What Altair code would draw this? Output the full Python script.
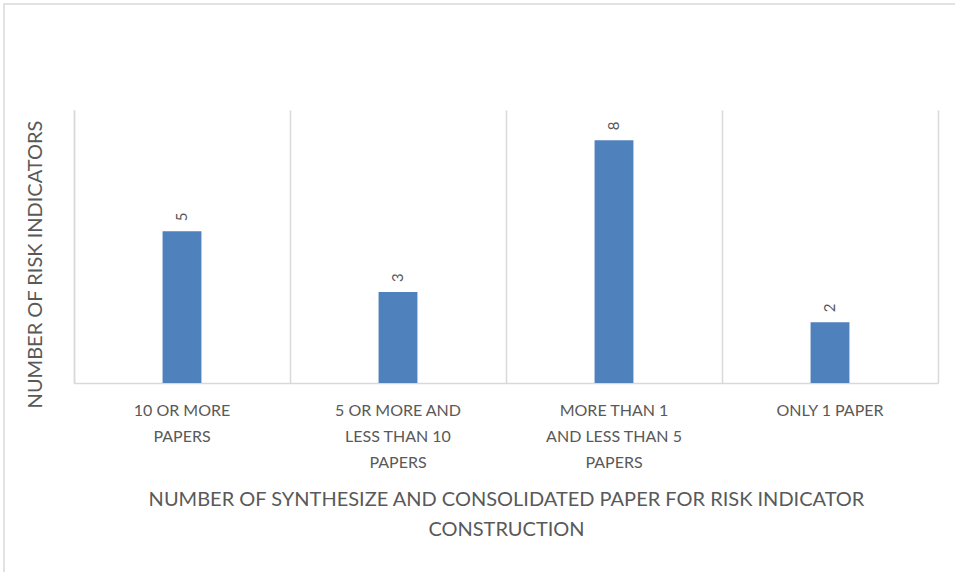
import altair as alt
import pandas as pd

categories = [
    "10 OR MORE|PAPERS",
    "5 OR MORE AND|LESS THAN 10|PAPERS",
    "MORE THAN 1|AND LESS THAN 5|PAPERS",
    "ONLY 1  PAPER",
]
values = [5, 3, 8, 2]

x_title = ["NUMBER OF SYNTHESIZE AND CONSOLIDATED PAPER FOR RISK INDICATOR", "CONSTRUCTION"]
y_title = "NUMBER OF RISK INDICATORS"

df = pd.DataFrame({"cat": categories, "val": values})

GRID = "#d9d9d9"
TXT = "#595959"
FONT = "Lato"

x_enc = alt.X(
    "cat:N",
    sort=categories,
    scale=alt.Scale(paddingInner=0, paddingOuter=0),
    axis=alt.Axis(
        title=x_title,
        labelExpr="split(datum.value, '|')",
        labelAngle=0,
        labelFont=FONT,
        labelFontSize=16,
        labelColor=TXT,
        labelLineHeight=26,
        labelPadding=27,
        labelBaseline="middle",
        ticks=False,
        grid=True,
        gridColor=GRID,
        gridWidth=1.5,
        bandPosition=0,
        domainColor=GRID,
        domainWidth=1.5,
        titleFont=FONT,
        titleFontSize=20,
        titleFontWeight="normal",
        titleColor=TXT,
        titleLineHeight=30,
        titleBaseline="middle",
        titleY=116,
    ),
)

y_scale = alt.Scale(domain=[0, 9], nice=False)

bars = alt.Chart(df).mark_bar(color="#4F81BD", width=alt.RelativeBandSize(0.18)).encode(
    x=x_enc,
    y=alt.Y(
        "val:Q",
        scale=y_scale,
        axis=alt.Axis(
            title=y_title,
            labels=False,
            ticks=False,
            grid=False,
            domain=True,
            domainColor=GRID,
            domainWidth=1.5,
            titleFont=FONT,
            titleFontSize=20,
            titleFontWeight="normal",
            titleColor=TXT,
            titlePadding=29,
            titleY=154,
        ),
    ),
)

labels = alt.Chart(df).mark_text(
    angle=270, align="left", baseline="middle", dx=10, font=FONT, fontSize=15, color=TXT
).encode(
    x=alt.X("cat:N", sort=categories),
    y=alt.Y(
        "val:Q",
        scale=y_scale,
        axis=alt.Axis(
            orient="right",
            title=None,
            labels=False,
            ticks=False,
            grid=False,
            domain=True,
            domainColor=GRID,
            domainWidth=1.5,
        ),
    ),
    text="val:Q",
)

border = alt.Chart(alt.Data(values=[{}])).mark_rect(
    fill=None, stroke=GRID, strokeWidth=1.5
).encode(
    x=alt.value(-70), x2=alt.value(900), y=alt.value(-106), y2=alt.value(500)
)

chart = (
    alt.layer(border, bars, labels)
    .resolve_axis(y="independent")
    .properties(
        width=864,
        height=273,
        autosize=alt.AutoSizeParams(type="none"),
        padding={"left": 74, "top": 110, "right": 17, "bottom": 189},
        background="white",
    )
    .configure_view(stroke=None)
)

chart.save("out.html", embed_options={"renderer": "svg", "actions": False})
